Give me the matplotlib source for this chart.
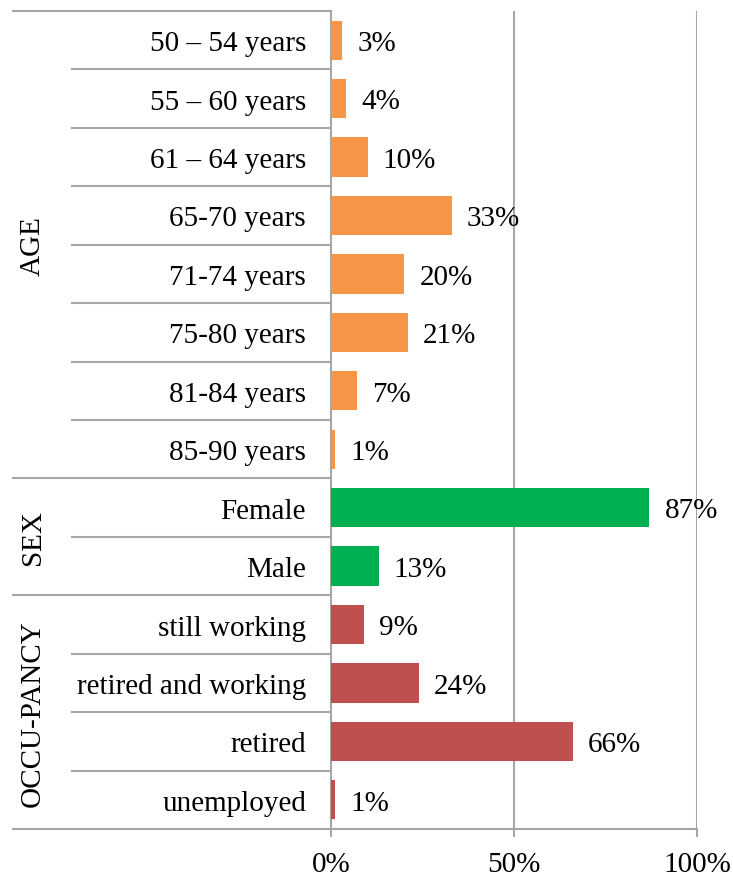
import matplotlib

matplotlib.use("Agg")
import matplotlib.pyplot as plt
import numpy as np

# data
categories = [
    "50 \u2013 54 years", "55 \u2013 60 years", "61 \u2013 64 years", "65-70 years",
    "71-74 years", "75-80 years", "81-84 years", "85-90 years",
    "Female", "Male",
    "still working", "retired and working", "retired", "unemployed",
]
values = [3, 4, 10, 33, 20, 21, 7, 1, 87, 13, 9, 24, 66, 1]
groups = ["AGE", "SEX", "OCCU-PANCY"]
group_sizes = [8, 2, 4]
group_colors = ["#F79646", "#00B050", "#C0504D"]
x_ticks = [0, 50, 100]

GRID = "#A6A6A6"

plt.rcParams["font.family"] = ["Liberation Serif", "DejaVu Serif"]
plt.rcParams["font.size"] = 21

fig = plt.figure(figsize=(7.33, 8.79), dpi=100)
ax = fig.add_axes([331 / 733, 1 - 830 / 879, (697 - 331) / 733, (830 - 12) / 879])

colors = []
for c, n in zip(group_colors, group_sizes):
    colors += [c] * n

y = np.arange(len(categories))
ax.barh(y, values, height=0.67, color=colors, zorder=3)
for yi, v in zip(y, values):
    ax.annotate(f"{v}%", (v, yi), xytext=(11, -2), textcoords="offset points",
                ha="left", va="center")

ax.set_xlim(0, 100)
ax.set_ylim(len(categories) - 0.5, -0.5)
ax.set_xticks(x_ticks)
ax.set_xticklabels([f"{t}%" for t in x_ticks])
ax.tick_params(axis="x", length=6, width=1.5, color=GRID, pad=10)
ax.set_yticks(y)
ax.set_yticklabels(categories)
ax.tick_params(axis="y", length=0, pad=18)

for t in x_ticks[1:]:
    ax.axvline(t, color=GRID, lw=1.5, zorder=1)

for s in ["top", "right"]:
    ax.spines[s].set_visible(False)
for s in ["left", "bottom"]:
    ax.spines[s].set_color(GRID)
    ax.spines[s].set_linewidth(1.5)

# separators in the category area
trans = ax.get_yaxis_transform()
group_edges = np.cumsum([0] + group_sizes) - 0.5
for b in np.arange(len(categories) + 1) - 0.5:
    x0 = -0.869 if b in group_edges else -0.708
    ax.plot([x0, 0], [b, b], color=GRID, lw=1.5, transform=trans, clip_on=False)

start = 0
for g, n in zip(groups, group_sizes):
    ax.text(-0.815, start + (n - 1) / 2, g, rotation=90, ha="center", va="center",
            transform=trans)
    start += n

fig.savefig("out.png", dpi=100)
